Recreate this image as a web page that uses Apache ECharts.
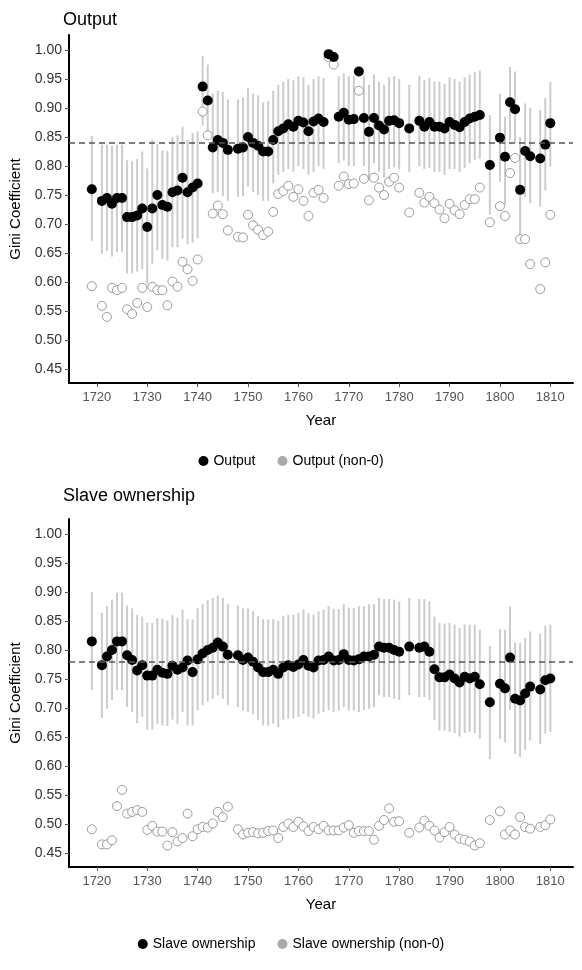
<!DOCTYPE html>
<html><head><meta charset="utf-8">
<script src="https://cdn.jsdelivr.net/npm/echarts@6/dist/echarts.min.js"></script>
<style>html,body{margin:0;padding:0;background:#fff}#c{width:582px;height:970px}</style>
</head><body><div id="c"></div>
<script>
const years = [1719,
1721,1722,1723,1724,1725,1726,1727,1728,1729,1730,1731,1732,1733,1734,1735,1736,1737,1738,1739,1740,1741,1742,1743,1744,1745,1746,
1748,1749,1750,1751,1752,1753,1754,1755,1756,1757,1758,1759,1760,1761,1762,1763,1764,1765,1766,1767,1768,1769,1770,1771,1772,1773,1774,1775,1776,1777,1778,1779,1780,
1782,
1784,1785,1786,1787,1788,1789,1790,1791,1792,1793,1794,1795,1796,
1798,
1800,1801,1802,1803,1804,1805,1806,
1808,1809,1810];
const xTicks = [1720,1730,1740,1750,1760,1770,1780,1790,1800,1810];
const yTicks = [0.45,0.5,0.55,0.6,0.65,0.7,0.75,0.8,0.85,0.9,0.95,1.0];

const outputGini = [.760,
.740,.745,.735,.745,.745,.712,.712,.715,.727,.695,.727,.750,.733,.730,.755,.758,.780,.755,.763,.770,.937,.913,.832,.845,.840,.828,
.830,.832,.850,.840,.835,.825,.825,.845,.860,.865,.872,.868,.878,.875,.860,.877,.882,.876,.993,.988,.885,.892,.880,.881,.963,.883,.859,.883,.870,.863,.878,.879,.874,
.865,
.878,.868,.876,.868,.868,.865,.876,.871,.867,.876,.882,.885,.888,
.802,
.849,.816,.910,.898,.759,.826,.817,
.813,.837,.874];
const outputNon0 = [.593,
.559,.540,.590,.586,.590,.553,.545,.564,.590,.557,.592,.586,.586,.560,.601,.592,.635,.622,.602,.639,.894,.853,.718,.732,.717,.689,
.678,.677,.716,.698,.690,.681,.687,.721,.752,.757,.766,.747,.760,.740,.714,.754,.759,.745,.988,.975,.766,.782,.769,.770,.930,.778,.741,.780,.763,.750,.773,.780,.763,
.720,
.754,.737,.747,.736,.725,.710,.735,.724,.717,.733,.743,.743,.763,
.703,
.731,.714,.788,.814,.674,.674,.631,
.588,.634,.716];
const outputLow = [.671,
.649,.654,.644,.652,.652,.615,.615,.618,.622,.597,.632,.655,.640,.637,.660,.660,.675,.665,.668,.675,.870,.845,.753,.755,.748,.740,
.747,.748,.765,.755,.750,.740,.740,.770,.785,.790,.795,.790,.800,.795,.785,.790,.800,.795,null,null,.805,.810,.800,.800,null,.800,.775,.805,.790,.780,.795,.798,.795,
.790,
.800,.795,.797,.790,.790,.785,.795,.795,.790,.797,.805,.810,.812,
.716,
.773,.733,.845,.840,.672,.747,.736,
.730,.758,.799];
const outputHigh = [.852,
.837,.837,.835,.837,.837,.810,.808,.812,.825,.796,.845,.838,.827,.826,.850,.853,.868,.845,.857,.860,.990,.975,.925,.930,.928,.915,
.915,.918,.935,.925,.922,.910,.912,.930,.940,.945,.950,.948,.955,.953,.940,.950,.955,.952,null,null,.955,.960,.955,.955,null,.955,.940,.958,.945,.940,.953,.955,.950,
.940,
.955,.948,.952,.946,.946,.942,.953,.950,.946,.953,.958,.962,.965,
.888,
.925,.885,.971,.963,.850,.908,.900,
.897,.917,.945];
const outputMean = 0.837;

const slaveGini = [.815,
.774,.789,.800,.815,.815,.791,.783,.765,.774,.756,.756,.766,.761,.759,.773,.766,.770,.782,.762,.784,.794,.800,.804,.813,.806,.792,
.791,.783,.787,.780,.770,.762,.762,.766,.759,.770,.774,.771,.775,.783,.773,.770,.782,.783,.789,.782,.783,.793,.783,.782,.784,.789,.789,.792,.806,.804,.804,.800,.797,
.806,
.804,.806,.797,.767,.753,.753,.758,.751,.744,.754,.751,.754,.741,
.710,
.742,.734,.787,.716,.713,.725,.737,
.732,.748,.751];
const slaveNon0 = [.491,
.465,.465,.472,.531,.559,.518,.521,.524,.521,.490,.497,.487,.487,.463,.486,.470,.476,.518,.479,.491,.495,.494,.501,.521,.512,.530,
.491,.482,.485,.486,.484,.485,.488,.489,.476,.495,.501,.495,.504,.496,.488,.495,.491,.497,.489,.489,.489,.494,.498,.485,.488,.488,.488,.473,.497,.507,.527,.504,.505,
.485,
.494,.506,.497,.489,.477,.486,.495,.482,.475,.473,.470,.463,.467,
.507,
.522,.482,.489,.482,.512,.495,.492,
.495,.498,.508];
const slaveLow = [.731,
.683,.699,.714,.731,.731,.702,.693,.674,.685,.663,.663,.673,.670,.669,.680,.673,.693,.670,.670,.696,.705,.711,.716,.722,.716,.705,
.702,.696,.693,.689,.680,.670,.670,.673,.667,.680,.682,.682,.685,.690,.685,.682,.690,.693,.696,.693,.696,.702,.696,.696,.693,.697,.699,.702,.722,.719,.719,.716,.714,
.722,
.719,.719,.714,.679,.661,.661,.659,.657,.651,.657,.659,.657,.647,
.612,
.647,.641,.697,.621,.616,.628,.644,
.638,.656,.659];
const slaveHigh = [.900,
.864,.876,.887,.899,.899,.877,.872,.861,.858,.847,.847,.855,.854,.851,.861,.856,.870,.853,.853,.872,.879,.886,.890,.894,.890,.879,
.877,.872,.872,.867,.859,.853,.853,.853,.850,.859,.861,.861,.864,.870,.864,.861,.867,.870,.876,.871,.871,.879,.873,.873,.876,.876,.879,.879,.890,.888,.888,.887,.884,
.890,
.888,.888,.884,.858,.847,.846,.847,.844,.838,.844,.844,.844,.835,
.807,
.836,.835,.875,.813,.812,.821,.832,
.828,.842,.844];
const slaveMean = 0.775;

const FONT = '"Liberation Sans", Arial, sans-serif';
const zip2 = (a) => years.map((y,i)=>[y,a[i]]);
const zip3 = (lo,hi) => years.map((y,i)=>[y,lo[i],hi[i]]);

function errBar(xi, lo, hi){
  return {type:'custom', xAxisIndex:xi, yAxisIndex:xi, data:zip3(lo,hi), z:1, silent:true,
    encode:{x:0,y:[1,2]},
    renderItem:(p,api)=>{
      const l=api.value(1), h=api.value(2);
      if(l==null||h==null||isNaN(l)||isNaN(h)) return;
      const a=api.coord([api.value(0),l]), b=api.coord([api.value(0),h]);
      return {type:'line', shape:{x1:a[0],y1:a[1],x2:b[0],y2:b[1]}, style:{stroke:'#cccccc', lineWidth:2}};
    }};
}
function xAx(gi){
  return {type:'value', gridIndex:gi, min:1714.47, max:1814.5, name:'Year', nameLocation:'middle', nameGap:30,
    nameTextStyle:{fontFamily:FONT,fontSize:15,color:'#000'},
    axisLine:{lineStyle:{color:'#000',width:2}},
    axisTick:{customValues:xTicks, length:4, lineStyle:{color:'#555'}},
    axisLabel:{customValues:xTicks, formatter:v=>String(v), fontFamily:FONT, fontSize:13, color:'#555', margin:8},
    splitLine:{show:false}};
}
function yAx(gi){
  return {type:'value', gridIndex:gi, min:0.426, max:1.026, name:'Gini Coefficient', nameLocation:'middle', nameGap:46,
    nameTextStyle:{fontFamily:FONT,fontSize:15,color:'#000'},
    axisLine:{show:true, lineStyle:{color:'#000',width:2}},
    axisTick:{show:true, customValues:yTicks, length:4, lineStyle:{color:'#555'}},
    axisLabel:{customValues:yTicks, formatter:v=>v.toFixed(2), fontFamily:FONT, fontSize:14, color:'#333', margin:7},
    splitLine:{show:false}};
}
function pts(xi, name, arr, mean){
  return {type:'scatter', name, xAxisIndex:xi, yAxisIndex:xi, data:zip2(arr), symbolSize:10, z:3,
    itemStyle:{color:'#000', opacity:1},
    markLine:{silent:true, symbol:'none', label:{show:false}, lineStyle:{color:'#555',type:[6,4],width:1.5},
      data:[{yAxis:mean}]}};
}
function hollow(xi, name, arr){
  return {type:'scatter', name, xAxisIndex:xi, yAxisIndex:xi, data:zip2(arr), symbolSize:9, z:2,
    itemStyle:{color:'#fff', borderColor:'#9a9a9a', borderWidth:1, opacity:1}};
}
function leg(top, left, a, b){
  return {top, left, itemWidth:10, itemHeight:10, itemGap:22, icon:'circle',
    textStyle:{fontFamily:FONT,fontSize:14,color:'#000'},
    data:[{name:a, itemStyle:{color:'#000'}},{name:b, itemStyle:{color:'#aaaaaa',borderWidth:0}}]};
}
const chart = echarts.init(document.getElementById('c'), null, {renderer:'canvas'});
chart.setOption({
  animation:false,
  title:[
    {text:'Output', left:58, top:6, textStyle:{fontFamily:FONT,fontSize:18,fontWeight:'normal',color:'#000'}},
    {text:'Slave ownership', left:58, top:482, textStyle:{fontFamily:FONT,fontSize:18,fontWeight:'normal',color:'#000'}}
  ],
  grid:[{left:66,right:9,top:35,height:348},{left:66,right:9,top:519,height:348}],
  xAxis:[xAx(0),xAx(1)],
  yAxis:[yAx(0),yAx(1)],
  legend:[leg(449,'center','Output','Output (non-0)'), leg(932,'center','Slave ownership','Slave ownership (non-0)')],
  series:[
    errBar(0,outputLow,outputHigh),
    hollow(0,'Output (non-0)',outputNon0),
    pts(0,'Output',outputGini,outputMean),
    errBar(1,slaveLow,slaveHigh),
    hollow(1,'Slave ownership (non-0)',slaveNon0),
    pts(1,'Slave ownership',slaveGini,slaveMean)
  ]
});
</script></body></html>
